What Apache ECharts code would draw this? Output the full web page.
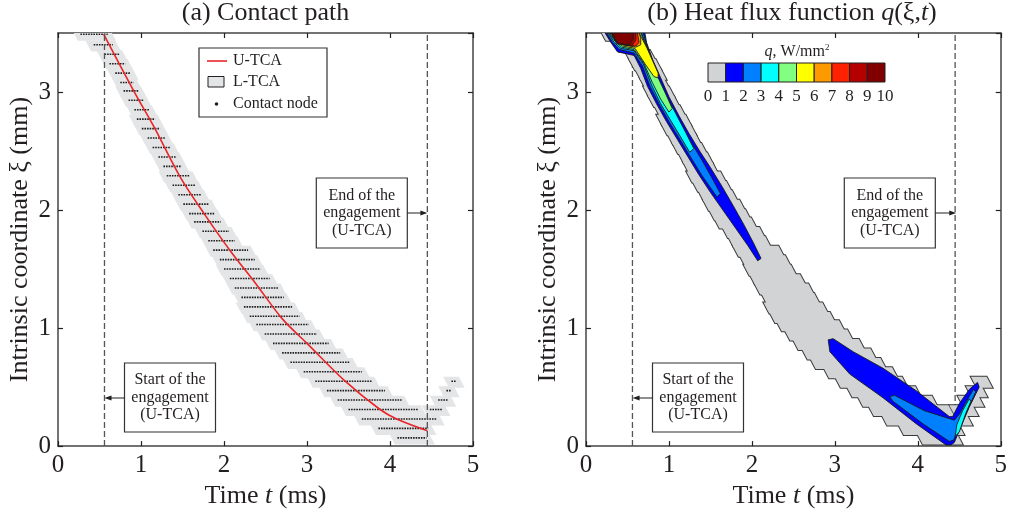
<!DOCTYPE html>
<html>
<head>
<meta charset="utf-8">
<script src="https://cdn.jsdelivr.net/npm/echarts@6/dist/echarts.min.js"></script>
<style>
  html, body { margin: 0; padding: 0; background: #fff; }
  #chart { width: 1010px; height: 514px; }
</style>
</head>
<body>
<div id="chart"></div>
<script>
// L-TCA contact rows: intrinsic coordinate, first and last contact time (ms)
const rowXi = [3.49, 3.40, 3.32, 3.24, 3.16, 3.08, 3.01, 2.93, 2.85, 2.77, 2.69, 2.61, 2.53, 2.45, 2.37,
  2.29, 2.21, 2.13, 2.05, 1.97, 1.90, 1.82, 1.74, 1.66, 1.58, 1.50, 1.42, 1.34, 1.26, 1.18,
  1.10, 1.03, 0.95, 0.87, 0.79, 0.71, 0.63, 0.55, 0.47, 0.39, 0.31, 0.23, 0.15, 0.07];
const rowStart = [0.27, 0.43, 0.56, 0.62, 0.69, 0.75, 0.79, 0.85, 0.92, 0.95, 1.01, 1.08, 1.14, 1.21, 1.27,
  1.31, 1.38, 1.45, 1.51, 1.58, 1.64, 1.74, 1.81, 1.87, 1.95, 2.00, 2.07, 2.13, 2.21, 2.24,
  2.31, 2.39, 2.49, 2.59, 2.70, 2.80, 2.96, 3.10, 3.24, 3.37, 3.50, 3.66, 3.86, 4.09];
const rowEnd = [0.60, 0.66, 0.74, 0.81, 0.87, 0.91, 0.97, 1.03, 1.10, 1.17, 1.23, 1.29, 1.36, 1.43, 1.49,
  1.59, 1.66, 1.73, 1.82, 1.89, 1.96, 2.06, 2.13, 2.29, 2.37, 2.44, 2.55, 2.65, 2.72, 2.82,
  2.91, 3.02, 3.12, 3.26, 3.40, 3.52, 3.66, 3.78, 3.94, 4.14, 4.34, 4.56, 4.46, 4.44];
// rising branch after the end of engagement
const branchXi = [0.55, 0.47, 0.39, 0.31];
const branchStart = [4.74, 4.68, 4.58, 4.48];
const branchEnd = [4.80, 4.74, 4.70, 4.63];

// U-TCA contact path
const uTcaT = [0.55, 0.92, 1.16, 1.48, 1.76, 2.07, 2.39, 2.70, 3.00, 3.46, 3.88, 4.08, 4.45];
const uTcaXi = [3.49, 3.00, 2.70, 2.27, 1.97, 1.66, 1.37, 1.08, 0.87, 0.55, 0.31, 0.23, 0.13];

const engageTimes = [0.56, 4.45];

// heat flux levels (W/mm2) and their fill colours
const qLevels = [0, 1, 2, 3, 4, 5, 6, 7, 8, 9, 10];
const qColors = ['#d1d3d4', '#0000ff', '#0080ff', '#00ffff', '#80ff80', '#ffff00', '#ff9900', '#ff2200', '#b40000', '#800000'];

// filled contour regions [t, xi]
const q1Upper = [[0.23, 3.50], [0.30, 3.42], [0.38, 3.34], [0.58, 3.31], [0.66, 3.20], [0.74, 3.05], [0.85, 2.90],
  [0.97, 2.75], [1.10, 2.60], [1.23, 2.45], [1.36, 2.30], [1.50, 2.15], [1.65, 2.00], [1.80, 1.85], [1.95, 1.70],
  [2.07, 1.57], [2.11, 1.59], [2.02, 1.72], [1.90, 1.88], [1.78, 2.03], [1.64, 2.20], [1.50, 2.36], [1.37, 2.50],
  [1.24, 2.65], [1.12, 2.80], [1.00, 2.96], [0.90, 3.12], [0.80, 3.28], [0.73, 3.42], [0.71, 3.50]];
const q1Lower = [[2.92, 0.90], [2.94, 0.80], [3.18, 0.61], [3.58, 0.41], [3.98, 0.19], [4.20, 0.08], [4.34, 0.01],
  [4.40, 0.01], [4.44, 0.03], [4.50, 0.13], [4.62, 0.33], [4.74, 0.50], [4.72, 0.54], [4.62, 0.48], [4.50, 0.36],
  [4.42, 0.25], [4.38, 0.25], [3.98, 0.47], [3.58, 0.66], [3.22, 0.80], [2.98, 0.91]];
const q2Upper = [[0.25, 3.50], [0.32, 3.42], [0.40, 3.36], [0.58, 3.33], [0.68, 3.22], [0.77, 3.05], [0.88, 2.90],
  [1.00, 2.75], [1.13, 2.60], [1.26, 2.45], [1.40, 2.29], [1.52, 2.17], [1.58, 2.11], [1.62, 2.14], [1.52, 2.27],
  [1.40, 2.42], [1.27, 2.57], [1.15, 2.72], [1.03, 2.87], [0.92, 3.03], [0.82, 3.20], [0.74, 3.38], [0.69, 3.50]];
const q2Lower = [[3.66, 0.42], [3.70, 0.38], [4.06, 0.19], [4.38, 0.04], [4.43, 0.05], [4.52, 0.18], [4.62, 0.34],
  [4.70, 0.46], [4.67, 0.48], [4.57, 0.36], [4.50, 0.27], [4.44, 0.22], [4.08, 0.30], [3.72, 0.43]];
const q3Upper = [[0.27, 3.50], [0.34, 3.42], [0.42, 3.37], [0.58, 3.35], [0.69, 3.24], [0.79, 3.06], [0.90, 2.90],
  [1.02, 2.76], [1.14, 2.62], [1.25, 2.49], [1.30, 2.52], [1.20, 2.66], [1.08, 2.82], [0.97, 2.97], [0.87, 3.12],
  [0.78, 3.30], [0.70, 3.44], [0.67, 3.50]];
const q3Branch = [[4.45, 0.08], [4.50, 0.12], [4.58, 0.28], [4.64, 0.38], [4.62, 0.40], [4.54, 0.30], [4.47, 0.18]];
const q4Upper = [[0.28, 3.50], [0.35, 3.43], [0.43, 3.38], [0.58, 3.36], [0.70, 3.24], [0.80, 3.08], [0.90, 2.94],
  [1.00, 2.83], [1.04, 2.86], [0.95, 3.00], [0.85, 3.15], [0.77, 3.32], [0.69, 3.45], [0.66, 3.50]];
const q5Upper = [[0.29, 3.50], [0.36, 3.43], [0.44, 3.39], [0.59, 3.37], [0.72, 3.23], [0.82, 3.13], [0.87, 3.12],
  [0.87, 3.16], [0.80, 3.27], [0.73, 3.38], [0.67, 3.46], [0.64, 3.50]];
const q6Upper = [[0.30, 3.50], [0.37, 3.43], [0.45, 3.40], [0.60, 3.38], [0.66, 3.40], [0.66, 3.46], [0.64, 3.50]];
const q7Upper = [[0.31, 3.50], [0.37, 3.42], [0.46, 3.40], [0.60, 3.39], [0.64, 3.42], [0.62, 3.50]];
const q8Upper = [[0.31, 3.50], [0.37, 3.41], [0.55, 3.39], [0.60, 3.44], [0.60, 3.50]];
const q9Upper = [[0.32, 3.50], [0.38, 3.41], [0.53, 3.40], [0.57, 3.45], [0.57, 3.50]];

const qZones = [
  [1, q1Upper], [1, q1Lower], [2, q2Upper], [2, q2Lower], [3, q3Upper], [3, q3Branch],
  [4, q4Upper], [5, q5Upper], [6, q6Upper], [7, q7Upper], [8, q8Upper], [9, q9Upper]
];

const SERIF = '"Liberation Serif", "Times New Roman", serif';
const INK = '#231f20';
const GRAY = '#e4e5e6';

const grids = [
  { left: 58, top: 33, width: 415, height: 416 },
  { left: 586, top: 33, width: 416, height: 416 },
  { left: 708, top: 63, width: 177, height: 19 } // colour bar
];

const chart = echarts.init(document.getElementById('chart'));

const rowData = rowXi.map((xi, i) => [rowStart[i], rowEnd[i], xi])
  .concat(branchXi.map((xi, i) => [branchStart[i], branchEnd[i], xi]));

// one row of the L-TCA as a slanted cell (cells overlap slightly so rows join)
const rowCell = api => {
  const a = api.value(0), b = api.value(1), xi = api.value(2);
  return [[a - 0.10, xi + 0.037], [b + 0.03, xi + 0.037], [b + 0.10, xi - 0.056], [a - 0.03, xi - 0.056]]
    .map(p => api.coord(p));
};

const labelFont = { fontFamily: SERIF, fontSize: 25, color: INK };
const nameFont = {
  fontFamily: SERIF, fontSize: 26, color: INK,
  rich: { i: { fontFamily: SERIF, fontSize: 26, color: INK, fontStyle: 'italic' } }
};
const frameLine = { onZero: false, lineStyle: { color: '#444', width: 1.5 } };
const innerTick = { inside: true, length: 5, lineStyle: { color: INK, width: 1.2 } };

const xAxes = [], yAxes = [];
[0, 1].forEach(g => {
  xAxes.push({
    type: 'value', gridIndex: g, position: 'bottom', min: 0, max: 5, interval: 1,
    axisLine: frameLine, axisTick: innerTick, splitLine: { show: false },
    axisLabel: { ...labelFont, margin: 7 },
    name: 'Time {i|t} (ms)', nameLocation: 'middle', nameGap: 31, nameTextStyle: nameFont
  }, {
    type: 'value', gridIndex: g, position: 'top', min: 0, max: 5, interval: 1,
    axisLine: frameLine, axisTick: innerTick, splitLine: { show: false }, axisLabel: { show: false }
  });
  yAxes.push({
    type: 'value', gridIndex: g, position: 'left', min: 0, max: 3.5, interval: 1,
    axisLine: frameLine, axisTick: innerTick, splitLine: { show: false },
    axisLabel: { ...labelFont, margin: 7, padding: [0, 0, 16, 0], showMaxLabel: false },
    name: 'Intrinsic coordinate ξ (mm)', nameLocation: 'middle', nameGap: 25, nameTextStyle: nameFont
  }, {
    type: 'value', gridIndex: g, position: 'right', min: 0, max: 3.5, interval: 1,
    axisLine: frameLine, axisTick: innerTick, splitLine: { show: false }, axisLabel: { show: false }
  });
});
// colour bar axes
xAxes.push({
  type: 'value', gridIndex: 2, min: 0, max: 10, interval: 1,
  axisLine: { show: false }, axisTick: { show: false }, splitLine: { show: false },
  axisLabel: { fontFamily: SERIF, fontSize: 17, color: INK, margin: 6 }
});
yAxes.push({ type: 'value', gridIndex: 2, min: 0, max: 1, show: false });

const engageSeries = (g, z) => ({
  type: 'custom', xAxisIndex: g * 2, yAxisIndex: g * 2, z, silent: true,
  data: engageTimes.map(t => [t]),
  renderItem: (params, api) => {
    const p0 = api.coord([api.value(0), 0]), p1 = api.coord([api.value(0), 3.5]);
    return {
      type: 'line', shape: { x1: p0[0], y1: p0[1], x2: p1[0], y2: p1[1] },
      style: { stroke: '#555', lineWidth: 1.3, lineDash: [6, 3] }
    };
  }
});

const series = [
  // (a) L-TCA band
  {
    name: 'L-TCA', type: 'custom', xAxisIndex: 0, yAxisIndex: 0, z: 1, clip: true,
    data: rowData, encode: { x: [0, 1], y: 2 },
    renderItem: (params, api) => ({ type: 'polygon', shape: { points: rowCell(api) }, style: { fill: GRAY } })
  },
  // (a) contact nodes
  {
    name: 'Contact node', type: 'custom', xAxisIndex: 0, yAxisIndex: 0, z: 2, clip: true,
    data: rowData, encode: { x: [0, 1], y: 2 },
    renderItem: (params, api) => {
      const p0 = api.coord([api.value(0), api.value(2)]), p1 = api.coord([api.value(1), api.value(2)]);
      return {
        type: 'line', shape: { x1: p0[0], y1: p0[1], x2: p1[0], y2: p1[1] },
        style: { stroke: '#1e1e1e', lineWidth: 1.6, lineDash: [1.6, 1] }
      };
    }
  },
  // (a) U-TCA path
  {
    name: 'U-TCA', type: 'line', xAxisIndex: 0, yAxisIndex: 0, z: 3,
    data: uTcaT.map((t, i) => [t, uTcaXi[i]]),
    showSymbol: false, smooth: 0.3,
    lineStyle: { color: '#e8262a', width: 1.6 }
  },
  engageSeries(0, 4),
  // (b)
  engageSeries(1, 1),
  {
    type: 'custom', xAxisIndex: 2, yAxisIndex: 2, z: 2, clip: true,
    data: rowData, encode: { x: [0, 1], y: 2 },
    renderItem: (params, api) => ({
      type: 'polygon', shape: { points: rowCell(api) },
      style: { fill: qColors[0], stroke: '#3a3a3a', lineWidth: 2 }
    })
  },
  {
    type: 'custom', xAxisIndex: 2, yAxisIndex: 2, z: 3, clip: true,
    data: rowData, encode: { x: [0, 1], y: 2 },
    renderItem: (params, api) => ({ type: 'polygon', shape: { points: rowCell(api) }, style: { fill: qColors[0] } })
  },
  {
    type: 'custom', xAxisIndex: 2, yAxisIndex: 2, z: 4, clip: true,
    data: qZones.map((z, i) => [i]),
    renderItem: (params, api) => {
      const zone = qZones[api.value(0)];
      return {
        type: 'polygon', shape: { points: zone[1].map(p => api.coord(p)) },
        style: { fill: qColors[zone[0]], stroke: '#1a1a1a', lineWidth: 0.9 }
      };
    }
  },
  // colour bar
  {
    type: 'custom', xAxisIndex: 4, yAxisIndex: 4, z: 5,
    data: qLevels.slice(0, -1).map((lv, i) => [lv, qLevels[i + 1]]),
    renderItem: (params, api) => {
      const p0 = api.coord([api.value(0), 1]), p1 = api.coord([api.value(1), 0]);
      return {
        type: 'rect', shape: { x: p0[0], y: p0[1], width: p1[0] - p0[0], height: p1[1] - p0[1] },
        style: { fill: qColors[params.dataIndex], stroke: INK, lineWidth: 1 }
      };
    }
  }
];

// annotation boxes with arrows to the engagement lines
const toPx = (g, t) => grids[g].left + t / 5 * grids[g].width;
const noteText = { fontFamily: SERIF, fontSize: 16, fill: INK, lineHeight: 17.5, align: 'center', verticalAlign: 'middle' };

const noteBox = (x, y, w, h, text, arrowY, tx) => {
  const fromX = tx < x ? x : x + w;
  const dir = tx < x ? 1 : -1;
  return [
    { type: 'rect', shape: { x, y, width: w, height: h }, style: { fill: '#fff', stroke: '#333', lineWidth: 1.2 }, z: 10 },
    { type: 'text', style: { ...noteText, text, x: x + w / 2, y: y + h / 2 }, z: 11 },
    { type: 'line', shape: { x1: fromX, y1: arrowY, x2: tx + dir * 5, y2: arrowY }, style: { stroke: INK, lineWidth: 1 }, z: 10 },
    { type: 'polygon', shape: { points: [[tx, arrowY], [tx + dir * 7, arrowY - 2.5], [tx + dir * 7, arrowY + 2.5]] }, style: { fill: INK }, z: 10 }
  ];
};

const graphics = [];
[0, 1].forEach(g => {
  const L = grids[g].left;
  graphics.push(...noteBox(L + 66.5, 363, 91, 69, 'Start of the\nengagement\n(U-TCA)', 398, toPx(g, engageTimes[0])));
  graphics.push(...noteBox(L + 258.3, 178, 91, 70, 'End of the\nengagement\n(U-TCA)', 213, toPx(g, engageTimes[1])));
});

// legend of panel (a)
const legendText = { fontFamily: SERIF, fontSize: 16, fill: INK, align: 'left', verticalAlign: 'middle' };
graphics.push(
  { type: 'rect', shape: { x: 199, y: 48, width: 128, height: 69 }, style: { fill: '#fff', stroke: '#333', lineWidth: 1.2 }, z: 10 },
  { type: 'line', shape: { x1: 207, y1: 61, x2: 227, y2: 61 }, style: { stroke: '#e8262a', lineWidth: 1.6 }, z: 11 },
  { type: 'rect', shape: { x: 208, y: 76.5, width: 16, height: 10.5 }, style: { fill: GRAY, stroke: INK, lineWidth: 1 }, z: 11 },
  { type: 'circle', shape: { cx: 216.5, cy: 104, r: 1.8 }, style: { fill: INK }, z: 11 },
  { type: 'text', style: { ...legendText, text: 'U-TCA', x: 233, y: 61 }, z: 11 },
  { type: 'text', style: { ...legendText, text: 'L-TCA', x: 233, y: 82 }, z: 11 },
  { type: 'text', style: { ...legendText, text: 'Contact node', x: 233, y: 103.5 }, z: 11 }
);

// colour bar title
graphics.push({
  type: 'text', z: 11,
  style: {
    text: '{i|q}, W/mm{s|2}', x: 797, y: 52, align: 'center', verticalAlign: 'middle',
    fontFamily: SERIF, fontSize: 16, fill: INK,
    rich: {
      i: { fontFamily: SERIF, fontSize: 16, fontStyle: 'italic', fill: INK },
      s: { fontFamily: SERIF, fontSize: 9, fill: INK, padding: [0, 0, 9, 0] }
    }
  }
});

const titleStyle = {
  fontFamily: SERIF, fontSize: 26, fontWeight: 'normal', color: INK,
  rich: { i: { fontFamily: SERIF, fontSize: 26, fontStyle: 'italic', color: INK } }
};

chart.setOption({
  animation: false,
  title: [
    { text: '(a) Contact path', left: 265.5, top: 0, padding: 0, textAlign: 'center', textStyle: titleStyle },
    { text: '(b) Heat flux function {i|q}(ξ,{i|t})', left: 792, top: 0, padding: 0, textAlign: 'center', textStyle: titleStyle }
  ],
  grid: grids,
  xAxis: xAxes,
  yAxis: yAxes,
  series,
  graphic: graphics
});
</script>
</body>
</html>
